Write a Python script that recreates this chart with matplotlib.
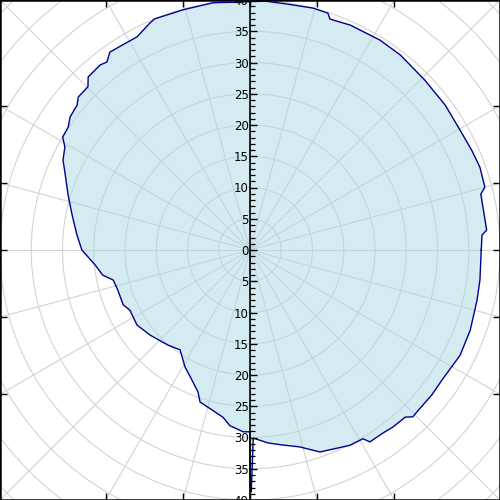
import numpy as np
import matplotlib
matplotlib.use("Agg")
import matplotlib.pyplot as plt
from matplotlib.ticker import MultipleLocator, FuncFormatter

# ---- data (angle in degrees, radius) ----
theta_deg = [0, 3.7, 4.8, 13.6, 15, 19.8, 24.2, 29.7, 36.6, 44.2, 52.4, 58.2, 66,
             70.9, 71.8, 75.4, 81.4, 86.6, 92.3, 98.5, 105.6, 112.4, 113.8, 117.9,
             120.4, 125.3, 127.3, 129, 133.1, 134.8, 138.3, 140, 143.5, 146, 148.9,
             150.9, 154.3, 157.9, 163.2, 168.9, 175, 180, 185.5, 189.7, 192.4, 196.9,
             203.4, 206.6, 213.6, 220.4, 229.2, 235, 240.9, 245, 249.9, 251.8, 256.6,
             260.8, 263.5, 267.8, 269.9, 270.1, 270.3, 271, 275.3, 279.3, 284.2,
             289.1, 297.1, 300.9, 302, 306, 308.9, 312.9, 314.3, 315.9, 321.5,
             325.9, 333.4, 340, 347.6, 352.6, 360]
radius = [37.0, 37.2, 38.0, 38.0, 38.9, 39.1, 38.9, 38.7, 38.9, 39.0, 39.4, 39.5, 39.4,
          39.1, 39.9, 40.0, 39.8, 39.9, 39.7, 40.0, 39.9, 40.0, 39.7, 38.6,
          38.6, 38.8, 37.8, 38.1, 37.9, 36.8, 36.8, 36.1, 35.8, 35.1, 35.0,
          33.9, 33.2, 31.9, 30.4, 29.0, 27.8, 26.9, 24.9, 23.9, 22.4, 22.1,
          22.1, 21.5, 21.7, 21.0, 20.1, 19.5, 21.4, 22.5, 24.2, 25.6, 26.3,
          27.1, 28.3, 29.1, 29.1, 38.7, 38.7, 30.1, 31.0, 31.6, 32.5,
          34.2, 35.1, 35.2, 36.2, 36.2, 36.4, 36.5, 37.3, 37.2, 37.2,
          37.1, 37.6, 37.5, 37.2, 37.1, 37.0]

ring_values = list(range(5, 60, 5))
spoke_angles = list(range(0, 360, 15))
axis_range = 40
r_outer = 57

fig = plt.figure(figsize=(5, 5), dpi=100)

# polar axes larger than the figure so rings are clipped by the square frame
s = r_outer / axis_range
pax = fig.add_axes([0.5 - s / 2, 0.5 - s / 2, s, s], projection="polar")
pax.set_ylim(0, r_outer)
pax.set_yticks(ring_values)
pax.set_yticklabels([])
pax.set_xticks(np.deg2rad(spoke_angles))
pax.set_xticklabels([])
pax.tick_params(length=0)
pax.grid(True, color="#d3d3d3", linewidth=0.8)
pax.spines["polar"].set_visible(False)
pax.patch.set_alpha(0)
pax.set_axisbelow(True)

th = np.deg2rad(theta_deg)
pax.fill(th, radius, color="lightblue", alpha=0.5, zorder=2, linewidth=0)
pax.plot(th, radius, color="darkblue", linewidth=1.0, zorder=3)

# square frame with ticks where spokes meet the edges
fax = fig.add_axes([0, 0, 1, 1])
fax.set_xlim(-axis_range, axis_range)
fax.set_ylim(-axis_range, axis_range)
fax.patch.set_alpha(0)
edge_ticks = [axis_range * np.tan(np.deg2rad(a)) for a in (-30, -15, 0, 15, 30)]
fax.set_xticks(edge_ticks)
fax.set_yticks(edge_ticks)
fax.tick_params(direction="in", length=5, width=1, top=True, right=True,
                labelleft=False, labelbottom=False)
for sp in fax.spines.values():
    sp.set_linewidth(1.8)

# central radial axis
rax = fig.add_axes([0, 0, 1, 1])
rax.set_xlim(-axis_range, axis_range)
rax.set_ylim(-axis_range, axis_range)
rax.patch.set_alpha(0)
for k in ("top", "right", "bottom"):
    rax.spines[k].set_visible(False)
rax.spines["left"].set_position(("data", 0))
rax.spines["left"].set_linewidth(1.2)
rax.set_xticks([])
rax.yaxis.set_major_locator(MultipleLocator(5))
rax.yaxis.set_minor_locator(MultipleLocator(1))
rax.yaxis.set_major_formatter(FuncFormatter(lambda v, p: f"{abs(int(round(v)))}"))
rax.tick_params(axis="y", which="major", direction="in", length=5, width=1,
                labelsize=8.5, pad=1)
rax.tick_params(axis="y", which="minor", direction="in", length=3.5, width=0.9)

fig.savefig("out.png", dpi=100)
